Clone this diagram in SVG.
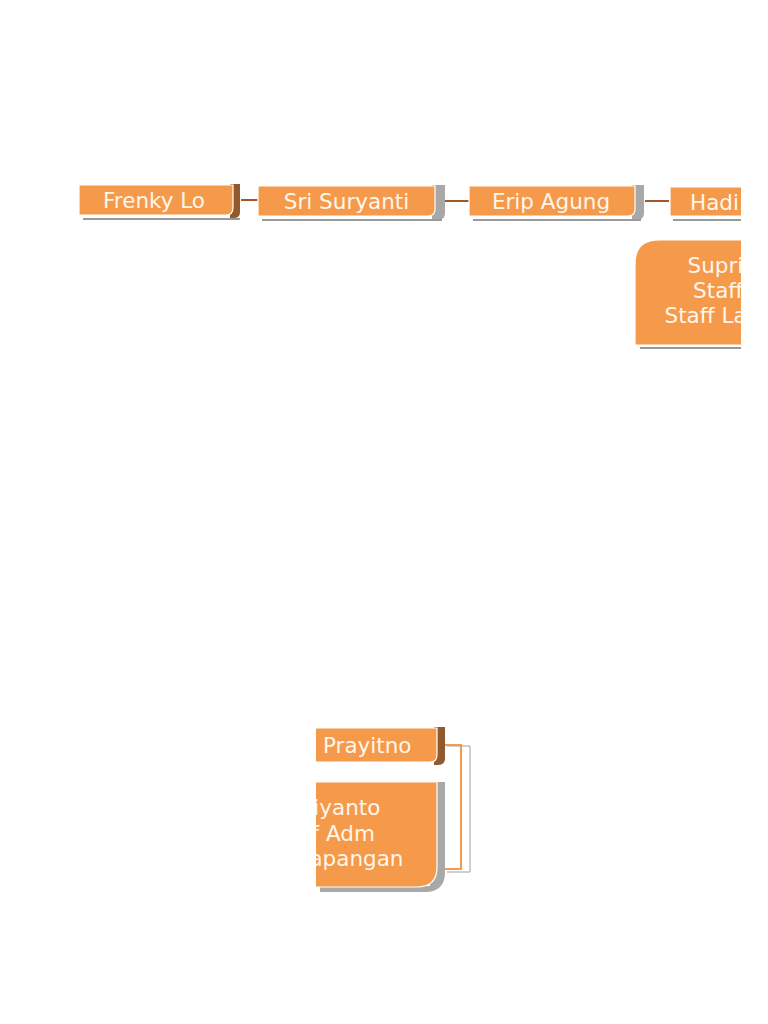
<svg xmlns="http://www.w3.org/2000/svg" width="768" height="1024" viewBox="0 0 768 1024">
<style>
.box{fill:#F5994B;stroke:#FFFFFF;stroke-width:1.2}
.sb{fill:#8E5A2E}
.sg{fill:#A8A8A8}
.ul{stroke:#9A9A9A;stroke-width:2}
.t{font-family:"DejaVu Sans",sans-serif;font-size:21.5px;fill:#FFF6EA}
.c{stroke:#A0582A;stroke-width:2;fill:none}
</style>
<defs>
<clipPath id="clipTop"><rect x="0" y="0" width="741" height="500"/></clipPath>
<clipPath id="clipBot"><rect x="316" y="600" width="452" height="424"/></clipPath>
</defs>
<rect width="768" height="1024" fill="#FFFFFF"/>
<g id="connectors">
<line class="c" x1="241" y1="200" x2="258" y2="200"/>
<line class="c" x1="445" y1="201" x2="469" y2="201" stroke="#E08A45"/>
<line class="c" x1="645" y1="201" x2="669" y2="201"/>
<path d="M447 746 H470 V872 H447" fill="none" stroke="#A0A0A0" stroke-width="1"/>
<path d="M445 745 H461 V869 H445" fill="none" stroke="#F5994B" stroke-width="2"/>
</g>
<g id="n-frenky">
<path class="sb" d="M230 184 H240 V212 Q240 218 234 218 H230 Z"/>
<line class="ul" x1="83" y1="219" x2="240" y2="219"/>
<path class="box" d="M79 185 H233 V208 Q233 215 226 215 H79 Z"/>
<text class="t" x="154" y="208" text-anchor="middle">Frenky Lo</text>
</g>
<g id="n-sri">
<path class="sg" d="M432 185 H445 V213 Q445 220 438 220 H432 Z"/>
<line class="ul" x1="262" y1="220" x2="442" y2="220"/>
<path class="box" d="M258 186 H435 V209 Q435 216 428 216 H258 Z"/>
<text class="t" x="346.5" y="209" text-anchor="middle">Sri Suryanti</text>
</g>
<g id="n-erip">
<path class="sg" d="M632 185 H644 V213 Q644 220 637 220 H632 Z"/>
<line class="ul" x1="473" y1="220" x2="641" y2="220"/>
<path class="box" d="M469 186 H635 V209 Q635 216 628 216 H469 Z"/>
<text class="t" x="551" y="209" text-anchor="middle">Erip Agung</text>
</g>
<g id="n-hadi" clip-path="url(#clipTop)">
<line class="ul" x1="673" y1="220" x2="768" y2="220"/>
<path class="box" d="M670 187 H800 V216 H670 Z"/>
<text class="t" x="690" y="210">Hadi</text>
</g>
<g id="n-supri" clip-path="url(#clipTop)">
<line class="ul" x1="640" y1="348" x2="768" y2="348"/>
<path class="box" d="M635 345 V264 Q635 240 659 240 H870 V345 Z"/>
<text class="t" text-anchor="middle"><tspan x="746" y="273">Supriyanto</tspan><tspan x="746" y="298">Staff Adm</tspan><tspan x="746" y="323">Staff Lapangan</tspan></text>
</g>
<g id="n-prayitno" clip-path="url(#clipBot)">
<path class="sb" d="M434 727 H445 V758 Q445 765 438 765 H434 Z"/>
<path class="box" d="M250 728 H437 V755 Q437 762 430 762 H250 Z"/>
<text class="t" x="323" y="753">Prayitno</text>
</g>
<g id="n-staff2" clip-path="url(#clipBot)">
<path class="sg" d="M430 782 H445 V872 Q445 892 425 892 H320 V886 H430 Z"/>
<path class="box" d="M210 782 H437 V867 Q437 887 417 887 H210 Z"/>
<text class="t" text-anchor="middle"><tspan x="322" y="815">Supriyanto</tspan><tspan x="322" y="841">Staff Adm</tspan><tspan x="322" y="866">Staff Lapangan</tspan></text>
</g>
</svg>
